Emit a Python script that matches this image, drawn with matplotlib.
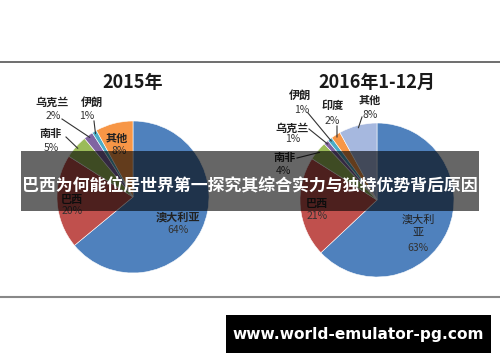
import numpy as np
import matplotlib
matplotlib.use("Agg")
import matplotlib.pyplot as plt
from matplotlib.patches import Rectangle

plt.rcParams['font.family'] = ['Noto Sans CJK SC', 'DejaVu Sans']

W, H = 500, 362

# 2015 shares
labels_2015 = ["澳大利亚", "巴西", "南非", "乌克兰", "伊朗", "其他"]
values_2015 = [64, 20, 5, 2, 1, 8]
colors_2015 = ["#4F81BD", "#C0504D", "#9BBB59", "#8064A2", "#4BACC6", "#F79646"]

# 2016 Jan-Dec shares
labels_2016 = ["澳大利亚", "巴西", "南非", "乌克兰", "伊朗", "印度", "其他"]
values_2016 = [63, 21, 4, 1, 1, 2, 8]
colors_2016 = ["#4F81BD", "#C0504D", "#9BBB59", "#8064A2", "#4BACC6", "#F79646", "#A6B8DF"]

# label text positions in pixels (name, pct), leader line end point or None
lab_pos_2015 = [((178, 217), (178, 230), None),
                ((72, 199), (72, 211), None),
                ((51, 133), (51, 148), (66, 137)),
                ((52, 102), (53, 116), (62, 119)),
                ((92, 102), (87, 116), (94, 121)),
                ((117, 138), (119, 151), None)]
lab_pos_2016 = [((418, 220), (418, 248), None),
                ((317, 204), (317, 216), None),
                ((285, 157), (283, 171), (297, 158)),
                ((292, 128), (293, 139), (309, 129)),
                ((300, 95), (302, 110), (308, 113)),
                ((333, 106), (332, 121), (337, 126)),
                ((370, 100), (370, 115), (362, 117))]

fig = plt.figure(figsize=(W / 100, H / 100), dpi=100)
ax = fig.add_axes([0, 0, 1, 1])


def draw_pie(center, radius, values, colors, labels, positions, title, title_y):
    cx, cy = center
    ax.pie(values, colors=colors, startangle=-90, counterclock=True,
           center=center, radius=radius,
           wedgeprops=dict(edgecolor="white", linewidth=0.4))
    ax.text(cx, title_y, title, ha="center", va="center", fontsize=13,
            fontweight="bold", color="#1a1a1a")
    total = float(sum(values))
    cum = 0.0
    for v, name, (npos, ppos, lend) in zip(values, labels, positions):
        mid = np.deg2rad(-90 + 360 * (cum + v / 2) / total)
        cum += v
        if name == "澳大利亚" and npos[1] < ppos[1] - 20:
            ax.text(npos[0], npos[1], "澳大利", ha="center", va="center", fontsize=8, color="#222")
            ax.text(npos[0], npos[1] + 13, "亚", ha="center", va="center", fontsize=8, color="#222")
        else:
            ax.text(npos[0], npos[1], name, ha="center", va="center", fontsize=8,
                    fontweight="bold", color="#222")
        ax.text(ppos[0], ppos[1], f"{v}%", ha="center", va="center", fontsize=7.5,
                color="#333")
        if lend is not None:
            ex = cx + radius * 0.97 * np.cos(mid)
            ey = cy + radius * 0.97 * np.sin(mid)
            ax.plot([lend[0], ex], [lend[1], ey], color="#333", lw=0.8)


draw_pie((133, 197), 76, values_2015, colors_2015, labels_2015, lab_pos_2015, "2015年", 82)
draw_pie((377, 200), 77, values_2016, colors_2016, labels_2016, lab_pos_2016, "2016年1-12月", 82)

ax.set_xlim(0, W)
ax.set_ylim(H, 0)
ax.set_aspect("auto")
ax.axis("off")

# frame lines
ax.plot([0, W], [62, 62], color="#555", lw=1.2)
ax.plot([0, W], [297, 297], color="#888", lw=1.5)

# banner overlay
ax.add_patch(Rectangle((21, 151), 458, 60, facecolor="black", alpha=0.6, edgecolor="none", zorder=5))
ax.text(250, 185, "巴西为何能位居世界第一探究其综合实力与独特优势背后原因", ha="center", va="center",
        fontsize=12.2, fontweight="bold", color="white", zorder=6)

# watermark box
ax.add_patch(Rectangle((226, 315), 265, 38, facecolor="black", edgecolor="none", zorder=5))
ax.text(358, 334, "www.world-emulator-pg.com", ha="center", va="center", fontsize=11.1,
        fontweight="bold", color="white", family="DejaVu Sans", zorder=6)

fig.savefig("out.png", dpi=100)
